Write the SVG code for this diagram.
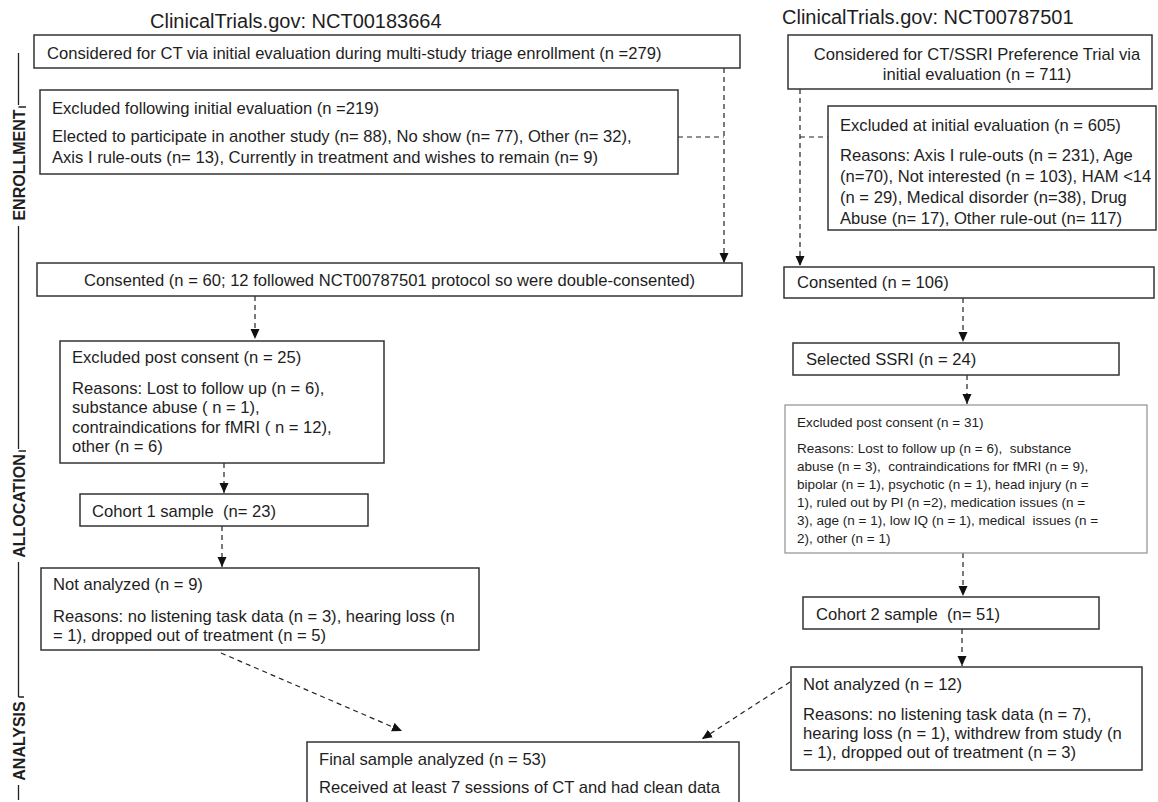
<svg xmlns="http://www.w3.org/2000/svg" width="1158" height="802" viewBox="0 0 1158 802">
<defs>
<style>
text{font-family:"Liberation Sans",Arial,sans-serif;fill:#1e1e1e;font-size:16.6px}
.title{font-size:20px}
.small{font-size:13.5px}
.axis{font-size:16px;font-weight:bold}
.box{fill:#fff;stroke:#333;stroke-width:1.5}
.gbox{fill:#fff;stroke:#999;stroke-width:1.3}
.dash{fill:none;stroke:#222;stroke-width:1.2;stroke-dasharray:5 4}
.ax{fill:none;stroke:#222;stroke-width:1.3}
</style>
<marker id="ah" markerUnits="userSpaceOnUse" markerWidth="10" markerHeight="10" refX="10" refY="5" orient="auto">
<path d="M0,0.5 L10,5 L0,9.5 z" fill="#111"/>
</marker>
</defs>
<rect width="1158" height="802" fill="#fff"/>

<g id="axis">
<path class="ax" d="M18.5,53 V105 M18.5,107 H26 M18.5,226 V449 M18.5,451 H26 M18.5,562 V697 M18.5,697 H24 M18.5,785 V800"/>
<text class="axis" transform="translate(24.5,165) rotate(-90)" text-anchor="middle">ENROLLMENT</text>
<text class="axis" transform="translate(24.5,506) rotate(-90)" text-anchor="middle">ALLOCATION</text>
<text class="axis" transform="translate(24.5,741) rotate(-90)" text-anchor="middle">ANALYSIS</text>
</g>

<g id="titles">
<text class="title" x="150" y="28">ClinicalTrials.gov: NCT00183664</text>
<text class="title" x="782" y="24">ClinicalTrials.gov: NCT00787501</text>
</g>

<g id="connectors">
<path class="dash" d="M724,68 V263" marker-end="url(#ah)"/>
<path class="dash" d="M678,137 H724"/>
<path class="dash" d="M255,296 V339" marker-end="url(#ah)"/>
<path class="dash" d="M224,463 V493" marker-end="url(#ah)"/>
<path class="dash" d="M222,526 V567" marker-end="url(#ah)"/>
<path class="dash" d="M221,653 L402,731" marker-end="url(#ah)"/>
<path class="dash" d="M800,89 V266" marker-end="url(#ah)"/>
<path class="dash" d="M800,137 H828"/>
<path class="dash" d="M963,298 V342" marker-end="url(#ah)"/>
<path class="dash" d="M967,375 V404" marker-end="url(#ah)"/>
<path class="dash" d="M963,553 V596" marker-end="url(#ah)"/>
<path class="dash" d="M962,629 V666" marker-end="url(#ah)"/>
<path class="dash" d="M790,682 L702,739" marker-end="url(#ah)"/>
</g>

<g id="n1">
<rect class="box" x="34" y="35" width="706" height="33"/>
<text x="47" y="58.5">Considered for CT via initial evaluation during multi-study triage enrollment (n =279)</text>
</g>
<g id="n2">
<rect class="box" x="40" y="90" width="638" height="84"/>
<text x="52" y="114">Excluded following initial evaluation (n =219)</text>
<text x="52" y="142">Elected to participate in another study (n= 88), No show (n= 77), Other (n= 32),</text>
<text x="52" y="163">Axis I rule-outs (n= 13), Currently in treatment and wishes to remain (n= 9)</text>
</g>
<g id="n3">
<rect class="box" x="37" y="263" width="705" height="33"/>
<text x="389.5" y="285.5" text-anchor="middle">Consented (n = 60; 12 followed NCT00787501 protocol so were double-consented)</text>
</g>
<g id="n4">
<rect class="box" x="60" y="341" width="324" height="122"/>
<text x="72" y="363">Excluded post consent (n = 25)</text>
<text x="72" y="394">Reasons: Lost to follow up (n = 6),</text>
<text x="72" y="413">substance abuse ( n = 1),</text>
<text x="72" y="433">contraindications for fMRI ( n = 12),</text>
<text x="72" y="452">other (n = 6)</text>
</g>
<g id="n5">
<rect class="box" x="80" y="494" width="288" height="32"/>
<text x="92" y="517" xml:space="preserve">Cohort 1 sample  (n= 23)</text>
</g>
<g id="n6">
<rect class="box" x="41" y="568" width="438" height="82"/>
<text x="53" y="590">Not analyzed (n = 9)</text>
<text x="53" y="622">Reasons: no listening task data (n = 3), hearing loss (n</text>
<text x="53" y="641">= 1), dropped out of treatment (n = 5)</text>
</g>
<g id="n7">
<rect class="box" x="307" y="742" width="432" height="70"/>
<text x="319" y="765">Final sample analyzed (n = 53)</text>
<text x="319" y="793">Received at least 7 sessions of CT and had clean data</text>
</g>

<g id="r1">
<rect class="box" x="788" y="35" width="364" height="54"/>
<text x="977" y="60" text-anchor="middle">Considered for CT/SSRI Preference Trial via</text>
<text x="977" y="80" text-anchor="middle">initial evaluation (n = 711)</text>
</g>
<g id="r2">
<rect class="box" x="828" y="106" width="328" height="124"/>
<text x="840" y="131">Excluded at initial evaluation (n = 605)</text>
<text x="840" y="161">Reasons: Axis I rule-outs (n = 231), Age</text>
<text x="840" y="182">(n=70), Not interested (n = 103), HAM &lt;14</text>
<text x="840" y="203">(n = 29), Medical disorder (n=38), Drug</text>
<text x="840" y="224">Abuse (n= 17), Other rule-out (n= 117)</text>
</g>
<g id="r3">
<rect class="box" x="784" y="267" width="370" height="31"/>
<text x="797" y="288">Consented (n = 106)</text>
</g>
<g id="r4">
<rect class="box" x="793" y="343" width="326" height="32"/>
<text x="806" y="365">Selected SSRI (n = 24)</text>
</g>
<g id="r5">
<rect class="gbox" x="785" y="405" width="362" height="148"/>
<text class="small" x="797" y="427">Excluded post consent (n = 31)</text>
<text class="small" x="797" y="453" xml:space="preserve">Reasons: Lost to follow up (n = 6),  substance</text>
<text class="small" x="797" y="471" xml:space="preserve">abuse (n = 3),  contraindications for fMRI (n = 9),</text>
<text class="small" x="797" y="489">bipolar (n = 1), psychotic (n = 1), head injury (n =</text>
<text class="small" x="797" y="507">1), ruled out by PI (n =2), medication issues (n =</text>
<text class="small" x="797" y="525" xml:space="preserve">3), age (n = 1), low IQ (n = 1), medical  issues (n =</text>
<text class="small" x="797" y="543">2), other (n = 1)</text>
</g>
<g id="r6">
<rect class="box" x="803" y="597" width="296" height="32"/>
<text x="816" y="620" xml:space="preserve">Cohort 2 sample  (n= 51)</text>
</g>
<g id="r7">
<rect class="box" x="791" y="667" width="351" height="103"/>
<text x="803" y="690">Not analyzed (n = 12)</text>
<text x="803" y="720">Reasons: no listening task data (n = 7),</text>
<text x="803" y="739">hearing loss (n = 1), withdrew from study (n</text>
<text x="803" y="758">= 1), dropped out of treatment (n = 3)</text>
</g>
</svg>
